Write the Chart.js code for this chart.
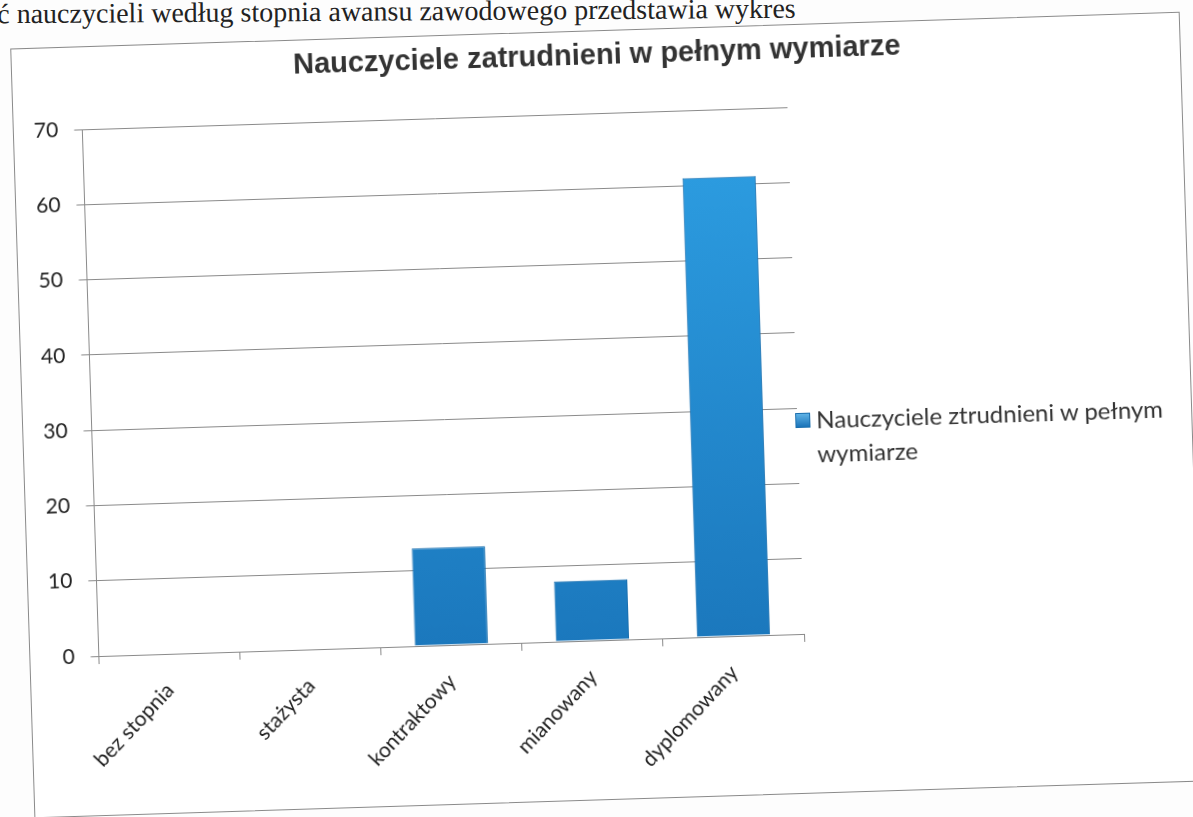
<!DOCTYPE html>
<html lang="pl">
<head>
    <meta charset="UTF-8">
    <title>Nauczyciele zatrudnieni w pełnym wymiarze</title>
    <script src="https://cdn.jsdelivr.net/npm/chart.js"></script>
    <style>
        body {
            margin: 0;
            width: 1193px;
            height: 817px;
            overflow: hidden;
            background: #fdfdfd;
            font-family: Lato, 'Open Sans', sans-serif;
        }

        .layer {
            position: absolute;
            left: 0;
            top: 0;
            width: 1193px;
            height: 817px;
            transform-origin: 607px 414px;
        }

        /* scanned page: the text line above is almost level, the chart is turned a bit */
        .paper { transform: rotate(-0.4deg); }
        .plot { transform: rotate(-1.8deg); }

        .scan-text {
            position: absolute;
            left: 0;
            top: -6px;
            font-family: 'Liberation Serif', 'DejaVu Serif', serif;
            font-size: 28px;
            color: #222;
            white-space: nowrap;
        }

        .chart-box {
            position: absolute;
            left: 22px;
            top: 30px;
            width: 1168px;
            height: 768px;
            border: 1px solid #8a8a8a;
            background: #fff;
        }

        .chart-wrap {
            position: absolute;
            left: 35px;
            top: 30px;
            width: 1145px;
            height: 768px;
        }

        .chart-wrap canvas {
            position: absolute;
            left: -16px;
            top: 0;
        }

        .chart-title {
            position: absolute;
            left: 0;
            top: 8px;
            width: 1146px;
            text-align: center;
            font-family: 'Liberation Sans', Arial, sans-serif;
            font-weight: bold;
            font-size: 29px;
            color: #333;
        }

        .legend {
            position: absolute;
            left: 760px;
            top: 379px;
            width: 400px;
            font-size: 24px;
            line-height: 34px;
            color: #333;
        }

        .legend .box {
            display: inline-block;
            width: 13px;
            height: 13px;
            margin-right: 6px;
            background: linear-gradient(#5eb2e6, #1a73b8);
            border: 1px solid #1b6fae;
            vertical-align: 1px;
        }

        .legend .line2 {
            padding-left: 21px;
        }
    </style>
</head>
<body>
    <div class="layer paper">
        <div class="scan-text">ć nauczycieli według stopnia awansu zawodowego przedstawia wykres</div>
    </div>
    <div class="layer plot">
        <div class="chart-box"></div>
        <div class="chart-wrap">
            <canvas id="teachersChart" width="1145" height="768"></canvas>
            <div class="chart-title">Nauczyciele zatrudnieni w pełnym wymiarze</div>
            <div class="legend">
                <div><span class="box"></span>Nauczyciele ztrudnieni w pełnym</div>
                <div class="line2">wymiarze</div>
            </div>
        </div>
    </div>

    <script>
        // data
        const categories = ['bez stopnia', 'stażysta', 'kontraktowy', 'mianowany', 'dyplomowany'];
        const fullTimeTeachers = [0, 0, 13, 8, 61];
        const yTicks = [0, 10, 20, 30, 40, 50, 60, 70];

        const seriesLabel = 'Nauczyciele ztrudnieni w pełnym wymiarze';

        function barFill(ctx) {
            const area = ctx.chart.chartArea;
            if (!area) return '#2190d4';
            const g = ctx.chart.ctx.createLinearGradient(0, area.top, 0, area.bottom);
            g.addColorStop(0, '#2ea0e4');
            g.addColorStop(1, '#1b78bd');
            return g;
        }

        new Chart(document.getElementById('teachersChart'), {
            type: 'bar',
            data: {
                labels: categories,
                datasets: [{
                    label: seriesLabel,
                    data: fullTimeTeachers,
                    backgroundColor: barFill,
                    borderColor: '#1b6fae',
                    borderWidth: 1,
                    barPercentage: 1,
                    categoryPercentage: 0.52
                }]
            },
            options: {
                responsive: false,
                animation: false,
                layout: {
                    padding: { left: 8, right: 367, top: 83, bottom: 8 }
                },
                plugins: {
                    legend: { display: false },
                    tooltip: { enabled: false },
                    title: { display: false }
                },
                scales: {
                    x: {
                        grid: {
                            display: true,
                            offset: true,
                            drawOnChartArea: false,
                            tickLength: 8,
                            color: '#8a8a8a'
                        },
                        border: { color: '#8a8a8a' },
                        ticks: {
                            minRotation: 45,
                            maxRotation: 45,
                            padding: 16,
                            color: '#222',
                            font: { family: 'Lato', size: 21 }
                        },
                        afterFit: function (scale) {
                            scale.height = 150;
                            scale.paddingLeft = 0;
                            scale.paddingRight = 0;
                        }
                    },
                    y: {
                        min: 0,
                        max: 70,
                        afterBuildTicks: function (scale) {
                            scale.ticks = yTicks.map(v => ({ value: v }));
                        },
                        grid: {
                            color: '#8a8a8a',
                            tickLength: 8
                        },
                        border: { color: '#8a8a8a' },
                        ticks: {
                            padding: 16,
                            color: '#222',
                            font: { family: 'Lato', size: 21 }
                        }
                    }
                }
            }
        });
    </script>
</body>
</html>
